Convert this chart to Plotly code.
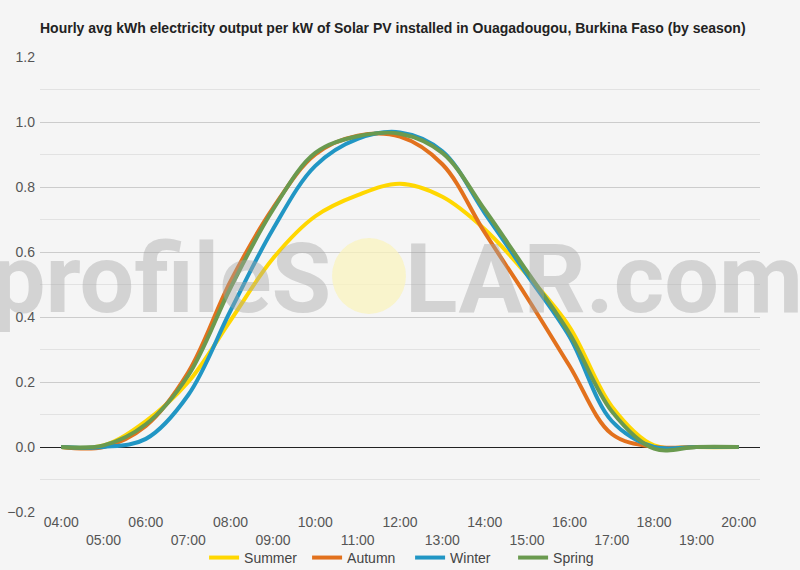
import plotly.graph_objects as go

# hourly values (kWh per kW installed)
hours = ["04:00", "05:00", "06:00", "07:00", "08:00", "09:00", "10:00", "11:00", "12:00",
         "13:00", "14:00", "15:00", "16:00", "17:00", "18:00", "19:00", "20:00"]
summer = [0, 0.005, 0.08, 0.20, 0.39, 0.58, 0.71, 0.775, 0.81, 0.77, 0.67, 0.53, 0.37, 0.125, 0.005, 0, 0]
autumn = [0, 0, 0.065, 0.23, 0.51, 0.735, 0.90, 0.958, 0.955, 0.87, 0.66, 0.46, 0.25, 0.04, 0, 0, 0]
winter = [0, 0, 0.025, 0.16, 0.42, 0.67, 0.865, 0.948, 0.968, 0.91, 0.72, 0.53, 0.34, 0.08, 0, 0, 0]
spring = [0, 0.005, 0.07, 0.22, 0.49, 0.73, 0.905, 0.956, 0.964, 0.905, 0.73, 0.54, 0.35, 0.11, -0.005, 0, 0]

seasons = ["Summer", "Autumn", "Winter", "Spring"]
colors = ["#FFD700", "#E2711D", "#2196C4", "#6A9A4F"]

# staggered x labels: odd hours go on a second row
tick_text = [h if i % 2 == 0 else "<br>" + h for i, h in enumerate(hours)]

fig = go.Figure()
for name, vals, col in zip(seasons, [summer, autumn, winter, spring], colors):
    fig.add_trace(go.Scatter(x=hours, y=vals, name=name, mode="lines",
                             line=dict(color=col, width=4, shape="spline", smoothing=1)))

# watermark (profileSOLAR.com with a sun as the O)
fig.add_shape(type="circle", xref="paper", yref="paper",
              x0=0.4056, x1=0.5083, y0=0.4352, y1=0.6022,
              fillcolor="rgba(250,243,190,0.75)", line=dict(width=0), layer="above")
wm_font = dict(family="Roboto", size=97, color="rgba(165,165,165,0.42)")
for txt, xp, anchor in [("<b>profileS</b>", 0.4069, "right"), ("<b>LAR.com</b>", 0.5042, "left")]:
    fig.add_annotation(text=txt, xref="paper", yref="paper", x=xp, y=0.512,
                       xanchor=anchor, yanchor="middle", showarrow=False, font=wm_font)

fig.update_layout(
    width=800, height=570,
    title=dict(text="<b>Hourly avg kWh electricity output per kW of Solar PV installed in Ouagadougou, Burkina Faso (by season)</b>",
               xref="container", x=0.05, xanchor="left", y=0.951, yanchor="middle",
               font=dict(family="Arial", size=14, color="#222")),
    paper_bgcolor="#f5f5f5", plot_bgcolor="#f5f5f5",
    margin=dict(l=40, r=40, t=57, b=58, autoexpand=False),
    font=dict(family="Arial", size=14, color="#555"),
    legend=dict(orientation="h", x=0.514, xanchor="center", y=-0.101, yanchor="middle",
                font=dict(size=14, color="#444"), itemwidth=30, entrywidth=58,
                bgcolor="rgba(0,0,0,0)"),
    showlegend=True,
)
fig.update_xaxes(type="category", range=[-0.5, 16.5], tickmode="array",
                 tickvals=hours, ticktext=tick_text, tickangle=0, automargin=False,
                 showgrid=False, showline=False, ticks="", zeroline=False)
fig.update_yaxes(range=[-0.2, 1.2], dtick=0.2, tickformat=".1f", automargin=False,
                 showgrid=True, gridcolor="#cccccc", gridwidth=1,
                 minor=dict(dtick=0.1, showgrid=True, gridcolor="#e2e2e2"),
                 zeroline=True, zerolinecolor="#222", zerolinewidth=1,
                 showline=False, ticks="", ticklabelstandoff=4)

fig.write_html("out.html", config={"displayModeBar": False},
               post_script="document.body.style.margin='0';")
